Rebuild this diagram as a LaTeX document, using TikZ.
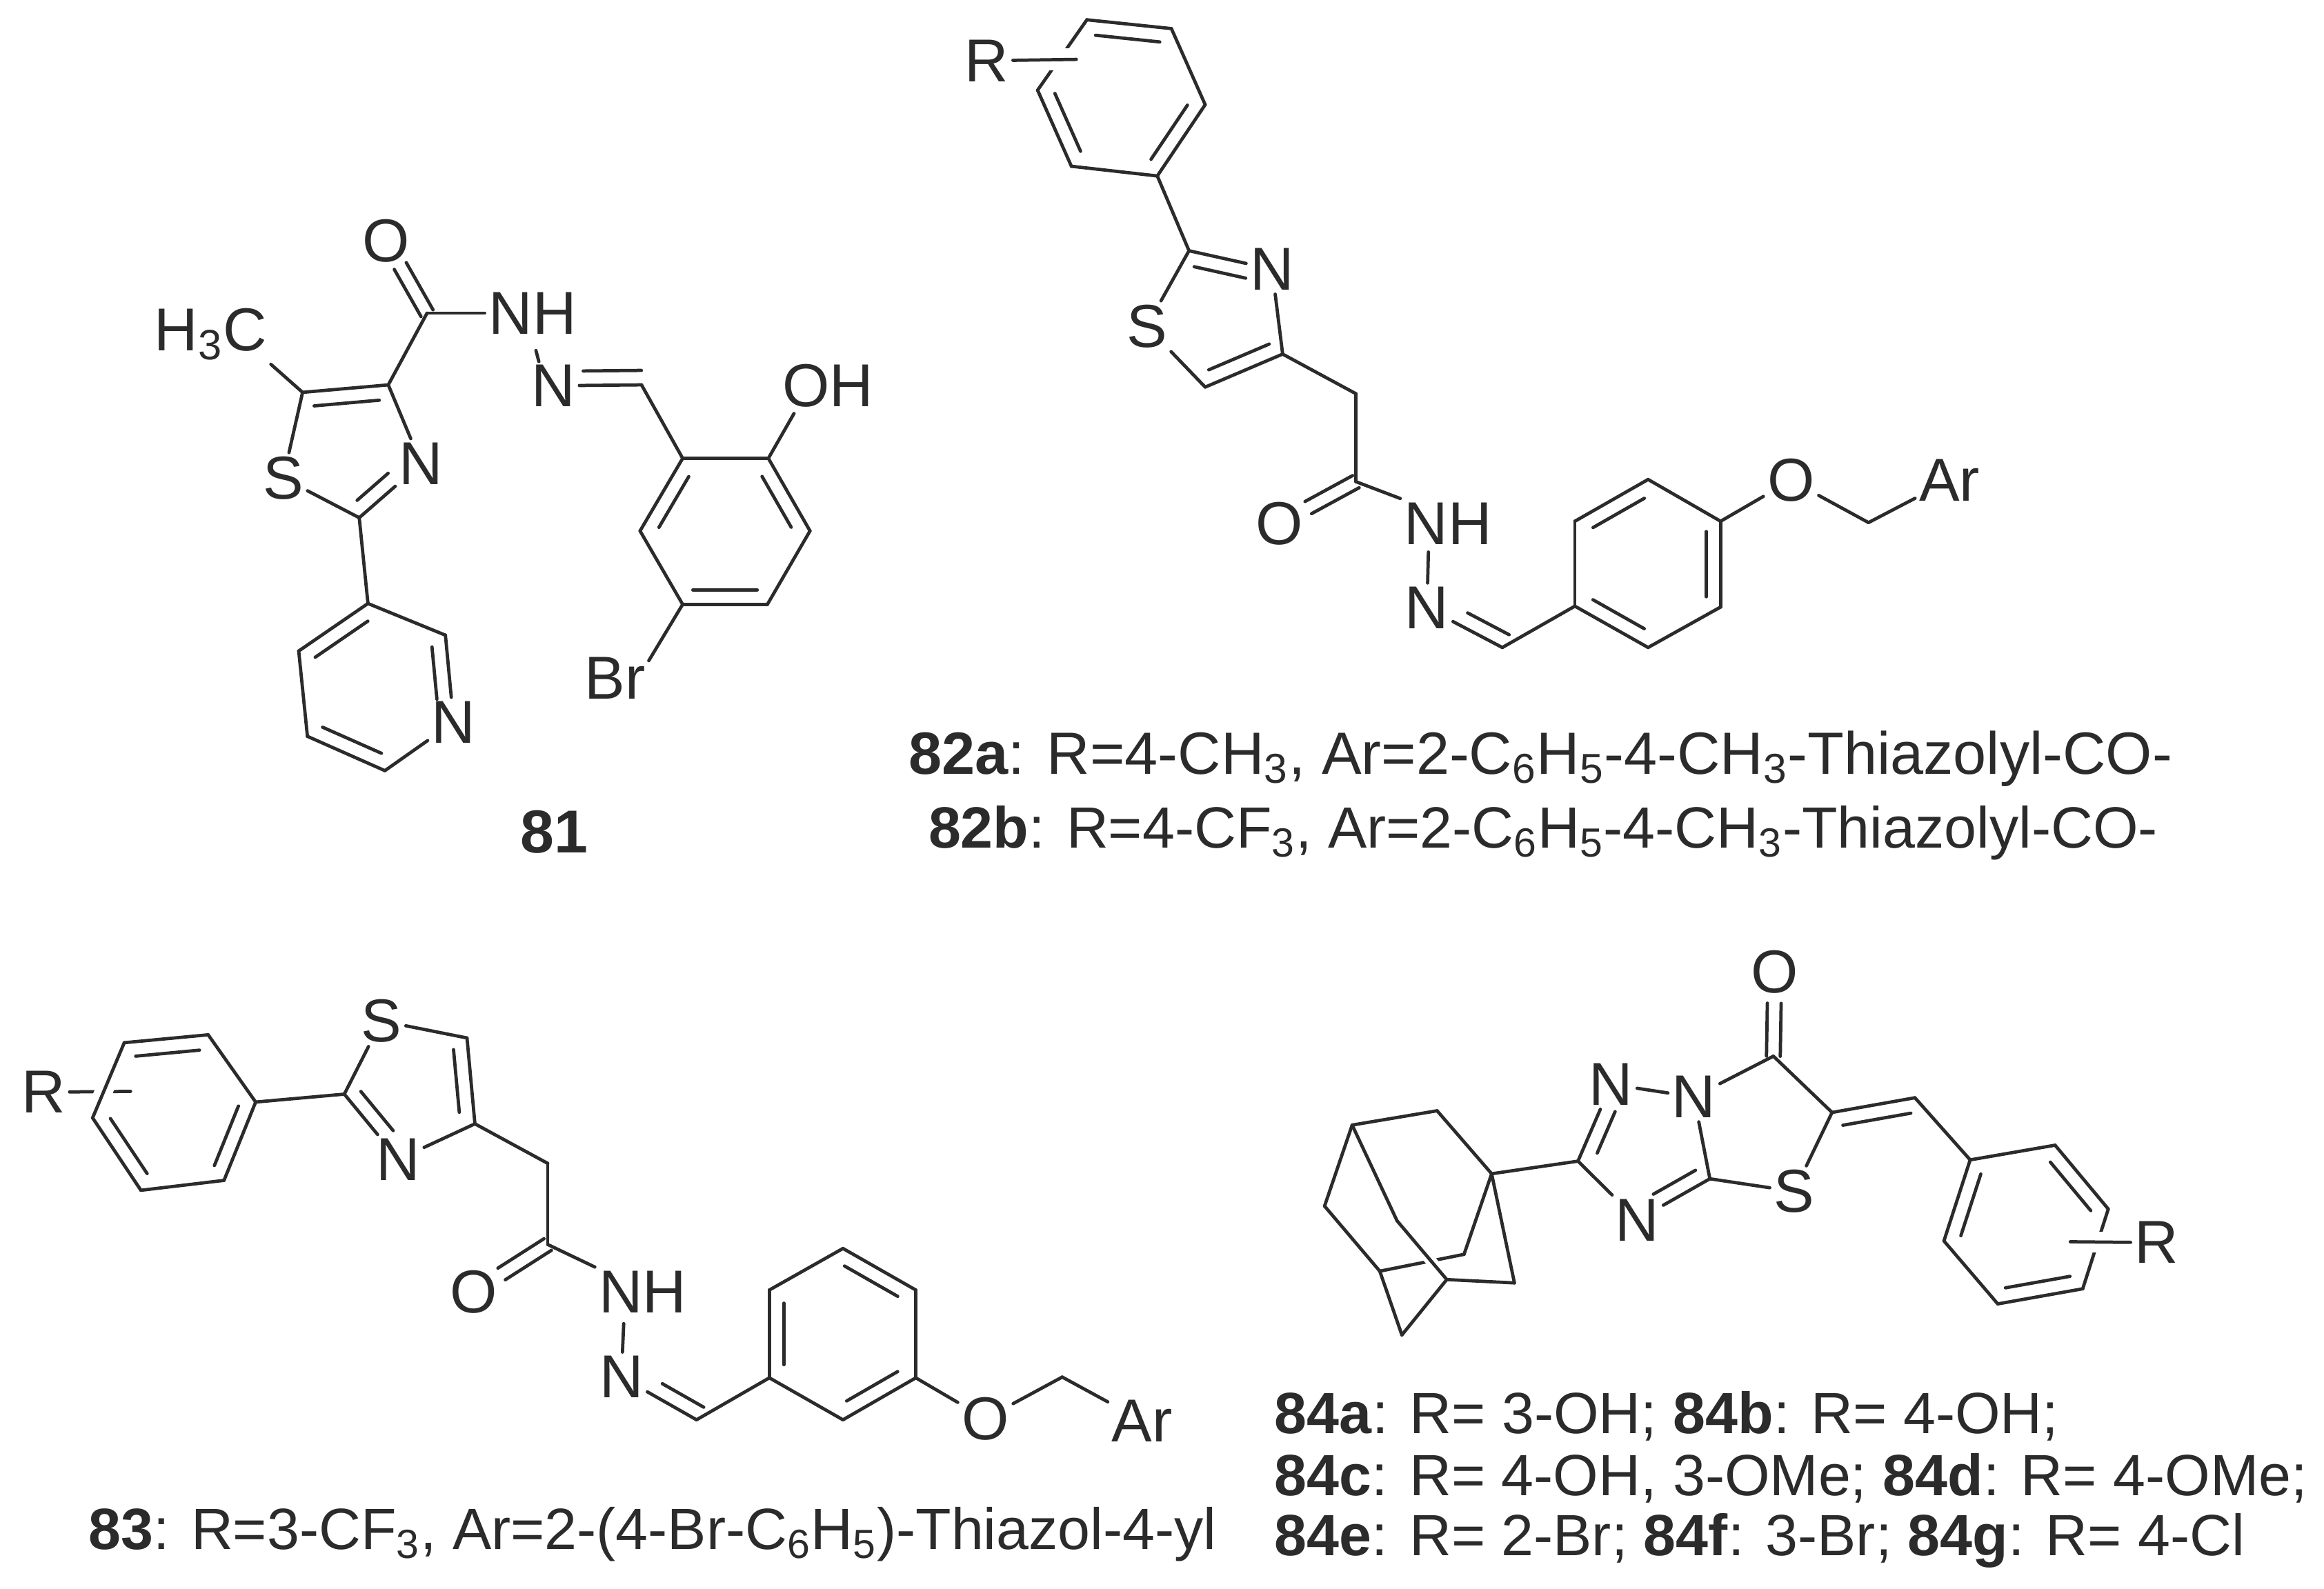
\documentclass[tikz,border=0pt]{standalone}
\usepackage{fontspec}
\setmainfont{Liberation Sans}
\usetikzlibrary{calc}
\definecolor{ink}{gray}{0.17}
\tikzset{
  bond/.style={draw=ink,line width=1.35pt,line cap=round,line join=round},
  halo/.style={draw=white,line cap=butt},
  atom/.style={inner sep=1.5pt,text=ink,font=\fontsize{25}{30}\selectfont},
  legend/.style={inner sep=0pt,text=ink,font=\fontsize{24}{29}\selectfont}
}
% list of bonds a/b
\newcommand\bonds[1]{\foreach \p/\q in {#1}{\draw[bond] (\p) -- (\q);}}
% second line of a double bond: from a to b, side angle, start and end fractions
\newcommand\dbl[5]{\draw[bond] ($(#1)!#4!(#2)!0.21cm!#3:(#2)$) -- ($(#1)!#5!(#2)!0.21cm!#3:(#2)$);}
% symmetric double bond from a towards b, up to fraction f
\newcommand\dsym[3]{%
  \draw[bond] ($(#1)!0.1cm!90:(#2)$) -- ($($(#1)!#3!(#2)$)!0.1cm!90:(#2)$);
  \draw[bond] ($(#1)!0.1cm!-90:(#2)$) -- ($($(#1)!#3!(#2)$)!0.1cm!-90:(#2)$);}
\newcommand\pts[1]{\foreach \n/\x/\y in {#1}{\coordinate (\n) at (\x,\y);}}
\begin{document}
\begin{tikzpicture}
\useasboundingbox (0,0) rectangle (33.69cm,-23.04cm);
\fill[white] (0,0) rectangle (33.69cm,-23.04cm);

% ---------- 81 ----------
\begin{scope}[shift={(2cm,-2.5cm)},x=0.007015cm,y=-0.006378cm]
\pts{aC5/340/500,aC4/517/483,aC2/457/785,aCO/597/320,aCH/1040/483,
 aB1/1125/650,aB2/1302/650,aB3/1388/815,aB4/1300/982,aB5/1125/982,aB6/1037/815,
 aP1/475/980,aP2/635/1052,aP4/510/1360,aP5/350/1282,aP6/332/1088,aOHe/1355/548,aBre/1055/1110}
\node[atom] (aMe) at (150,368) {H\textsubscript{3}C};
\node[atom] (aS) at (300,695) {S};
\node[atom] (aN) at (585,662) {N};
\node[atom] (aO) at (512,155) {O};
\node[atom] (aNH) at (815,320) {NH};
\node[atom] (aNb) at (858,485) {N};
\node[atom] (aOH) at (1425,485) {OH};
\node[atom] (aBr) at (985,1150) {Br};
\node[atom] (aPN) at (652,1250) {N};
\node[atom,font=\fontsize{25}{30}\selectfont\bfseries] (a81) at (860,1500) {81};
\coordinate (aNHb) at (822,405);
\coordinate (aNbt) at (828,430);
\bonds{aC5/aC4,aC4/aN,aN/aC2,aC2/aS,aS/aC5,aC4/aCO,aC2/aP1,aCO/aNH.west,aNHb/aNbt,aNb/aCH,aCH/aB1,
 aB1/aB2,aB2/aB3,aB3/aB4,aB4/aB5,aB5/aB6,aB6/aB1,aB2/aOHe,aB5/aBre,
 aP1/aP2,aP2/aPN,aPN/aP4,aP4/aP5,aP5/aP6,aP6/aP1,aC5/aMe.south east}
\dsym{aCO}{aO}{.65}
\dbl{aC5}{aC4}{-90}{.12}{.88}
\dbl{aN}{aC2}{-90}{.38}{.88}
\dbl{aCH}{aNb}{-90}{0}{.66}
\dbl{aB2}{aB3}{-90}{.15}{.85}
\dbl{aB4}{aB5}{-90}{.12}{.88}
\dbl{aB6}{aB1}{-90}{.15}{.85}
\dbl{aP2}{aPN}{-90}{.12}{.72}
\dbl{aP4}{aP5}{-90}{.12}{.88}
\dbl{aP6}{aP1}{-90}{.12}{.88}
\end{scope}

% ---------- 82 ----------
\begin{scope}[shift={(13cm,0cm)},x=0.010204cm,y=-0.006378cm]
\pts{ba/270/45,bb/390/65,bc/438/238,bd/370/400,be/248/378,bf/200/205,
 bC2/415/570,bC4/548/805,bC5/438/880,bCH2/652/895,bCO/652/1095,bCH/860/1472,
 br1/963/1378,br2/963/1185,br3/1067/1090,br4/1170/1185,br5/1170/1380,br6/1067/1472,
 bOC/1380/1188,bRe/255/135,bRh/165/135,bNHb/755/1255}
\node[atom] (bR) at (128,138) {R};
\node[atom] (bN) at (533,612) {N};
\node[atom] (bS) at (355,742) {S};
\node[atom] (bO) at (543,1190) {O};
\node[atom] (bNH) at (783,1190) {NH};
\node[atom] (bNb) at (753,1382) {N};
\node[atom] (bOx) at (1270,1092) {O};
\node[atom] (bAr) at (1495,1092) {Ar};
\bonds{ba/bb,bb/bc,bc/bd,bd/be,be/bf,bf/ba}
\draw[halo,line width=0.32cm] (bRh) -- (bRe);
\bonds{bR/bRe,bd/bC2,bC2/bN,bN/bC4,bC4/bC5,bC5/bS,bS/bC2,bC4/bCH2,bCH2/bCO,bCO/bNH.north west,bNHb/bNb,
 bNb/bCH,bCH/br1,br1/br2,br2/br3,br3/br4,br4/br5,br5/br6,br6/br1,br4/bOx,bOx/bOC,bOC/bAr}
\dsym{bCO}{bO}{.62}
\dbl{ba}{bb}{-90}{.12}{.88}
\dbl{bc}{bd}{-90}{.12}{.88}
\dbl{be}{bf}{-90}{.12}{.88}
\dbl{bC2}{bN}{-90}{.1}{.72}
\dbl{bC4}{bC5}{-90}{.1}{.88}
\dbl{bCH}{bNb}{-90}{0}{.55}
\dbl{br2}{br3}{-90}{.15}{.85}
\dbl{br4}{br5}{-90}{.12}{.88}
\dbl{br6}{br1}{-90}{.15}{.85}
\end{scope}
\node[legend,font=\fontsize{24.6}{29}\selectfont] (l82a) at (22.33cm,-11.0cm) {\textbf{82a}: R=4-CH\textsubscript{3}, Ar=2-C\textsubscript{6}H\textsubscript{5}-4-CH\textsubscript{3}-Thiazolyl-CO-};
\node[legend] (l82b) at (22.37cm,-12.08cm) {\textbf{82b}: R=4-CF\textsubscript{3}, Ar=2-C\textsubscript{6}H\textsubscript{5}-4-CH\textsubscript{3}-Thiazolyl-CO-};

% ---------- 83 ----------
\begin{scope}[shift={(0cm,-14cm)},x=0.01148cm,y=-0.00574cm]
\pts{ca/157/195,cb/263/175,cc/323/345,cd/283/543,ce/178/568,cf/117/385,
 cC2/435/325,cC5/590/183,cC4/600/400,cCH2/692/500,cCO/692/705,cCH/880/1148,
 cr1/972/1042,cr2/972/820,cr3/1065/715,cr4/1157/820,cr5/1157/1042,cr6/1065/1148,
 cOC/1342/1040,cRe/165/318,cNHb/788/905}
\node[atom] (cR) at (55,320) {R};
\node[atom] (cS) at (482,140) {S};
\node[atom] (cN) at (503,490) {N};
\node[atom] (cO) at (598,825) {O};
\node[atom] (cNH) at (812,825) {NH};
\node[atom] (cNb) at (785,1040) {N};
\node[atom] (cOx) at (1245,1145) {O};
\node[atom] (cAr) at (1443,1150) {Ar};
\bonds{cR/cRe}
\draw[halo,line width=0.26cm] (cf) -- (ca);
\bonds{ca/cb,cb/cc,cc/cd,cd/ce,ce/cf,cf/ca,cc/cC2,cC2/cS,cS/cC5,cC5/cC4,cC4/cN,cN/cC2,cC4/cCH2,cCH2/cCO,
 cCO/cNH.north west,cNHb/cNb,cNb/cCH,cCH/cr1,cr1/cr2,cr2/cr3,cr3/cr4,cr4/cr5,cr5/cr6,cr6/cr1,cr5/cOx,cOx/cOC,cOC/cAr}
\dsym{cCO}{cO}{.62}
\dbl{ca}{cb}{-90}{.12}{.88}
\dbl{cc}{cd}{-90}{.12}{.88}
\dbl{ce}{cf}{-90}{.12}{.88}
\dbl{cC5}{cC4}{-90}{.12}{.85}
\dbl{cN}{cC2}{-90}{.3}{.9}
\dbl{cCH}{cNb}{-90}{0}{.55}
\dbl{cr1}{cr2}{-90}{.15}{.85}
\dbl{cr3}{cr4}{-90}{.12}{.85}
\dbl{cr5}{cr6}{-90}{.15}{.85}
\end{scope}
\node[legend] (l83) at (9.46cm,-22.25cm) {\textbf{83}: R=3-CF\textsubscript{3}, Ar=2-(4-Br-C\textsubscript{6}H\textsubscript{5})-Thiazol-4-yl};

% ---------- 84 ----------
\begin{scope}[shift={(18cm,-13.5cm)},x=0.010006cm,y=-0.006084cm]
\pts{da/283/428,db/160/462,dc/120/655,dd/200/810,de/322/770,df/362/578,dg/395/838,dh/297/830,di/232/962,dj/225/690,
 dC3/487/548,dC8/678/590,dCO/770/298,dC/855/432,dCH/975/397,
 dp1/1055/545,dp2/1178/510,dp3/1255/662,dp4/1218/852,dp5/1095/888,dp6/1017/738,dRe/1200/740,dRh/1285/740}
\node[atom] (dN1) at (535,365) {N};
\node[atom] (dN2) at (655,395) {N};
\node[atom] (dN3) at (573,688) {N};
\node[atom] (dS) at (800,620) {S};
\node[atom] (dO) at (772,98) {O};
\node[atom] (dR) at (1325,742) {R};
\bonds{dd/de}
\draw[halo,line width=0.16cm] (dj) -- (dh);
\bonds{da/db,db/dc,dc/dd,de/df,df/da,df/dg,dg/dh,dh/di,di/dd,db/dj,dj/dh,df/dC3,
 dC3/dN1,dN1/dN2,dN2/dC8,dC8/dN3,dN3/dC3,dC8/dS,dS/dC,dC/dCO,dCO/dN2,dC/dCH,dCH/dp1,
 dp1/dp2,dp2/dp3,dp3/dp4,dp4/dp5,dp5/dp6,dp6/dp1}
\draw[halo,line width=0.3cm] (dRe) -- (dRh);
\bonds{dRe/dR}
\dsym{dCO}{dO}{.63}
\dbl{dC3}{dN1}{-90}{.18}{.72}
\dbl{dC8}{dN3}{-90}{.1}{.68}
\dbl{dC}{dCH}{-90}{.1}{.92}
\dbl{dp2}{dp3}{-90}{.12}{.88}
\dbl{dp4}{dp5}{-90}{.12}{.88}
\dbl{dp6}{dp1}{-90}{.12}{.88}
\end{scope}
\node[legend,anchor=west] (l84a) at (18.47cm,-20.53cm) {\textbf{84a}: R= 3-OH; \textbf{84b}: R= 4-OH;};
\node[legend,anchor=west] (l84b) at (18.47cm,-21.43cm) {\textbf{84c}: R= 4-OH, 3-OMe; \textbf{84d}: R= 4-OMe;};
\node[legend,anchor=west] (l84c) at (18.47cm,-22.34cm) {\textbf{84e}: R= 2-Br; \textbf{84f}: 3-Br; \textbf{84g}: R= 4-Cl};
\end{tikzpicture}
\end{document}
